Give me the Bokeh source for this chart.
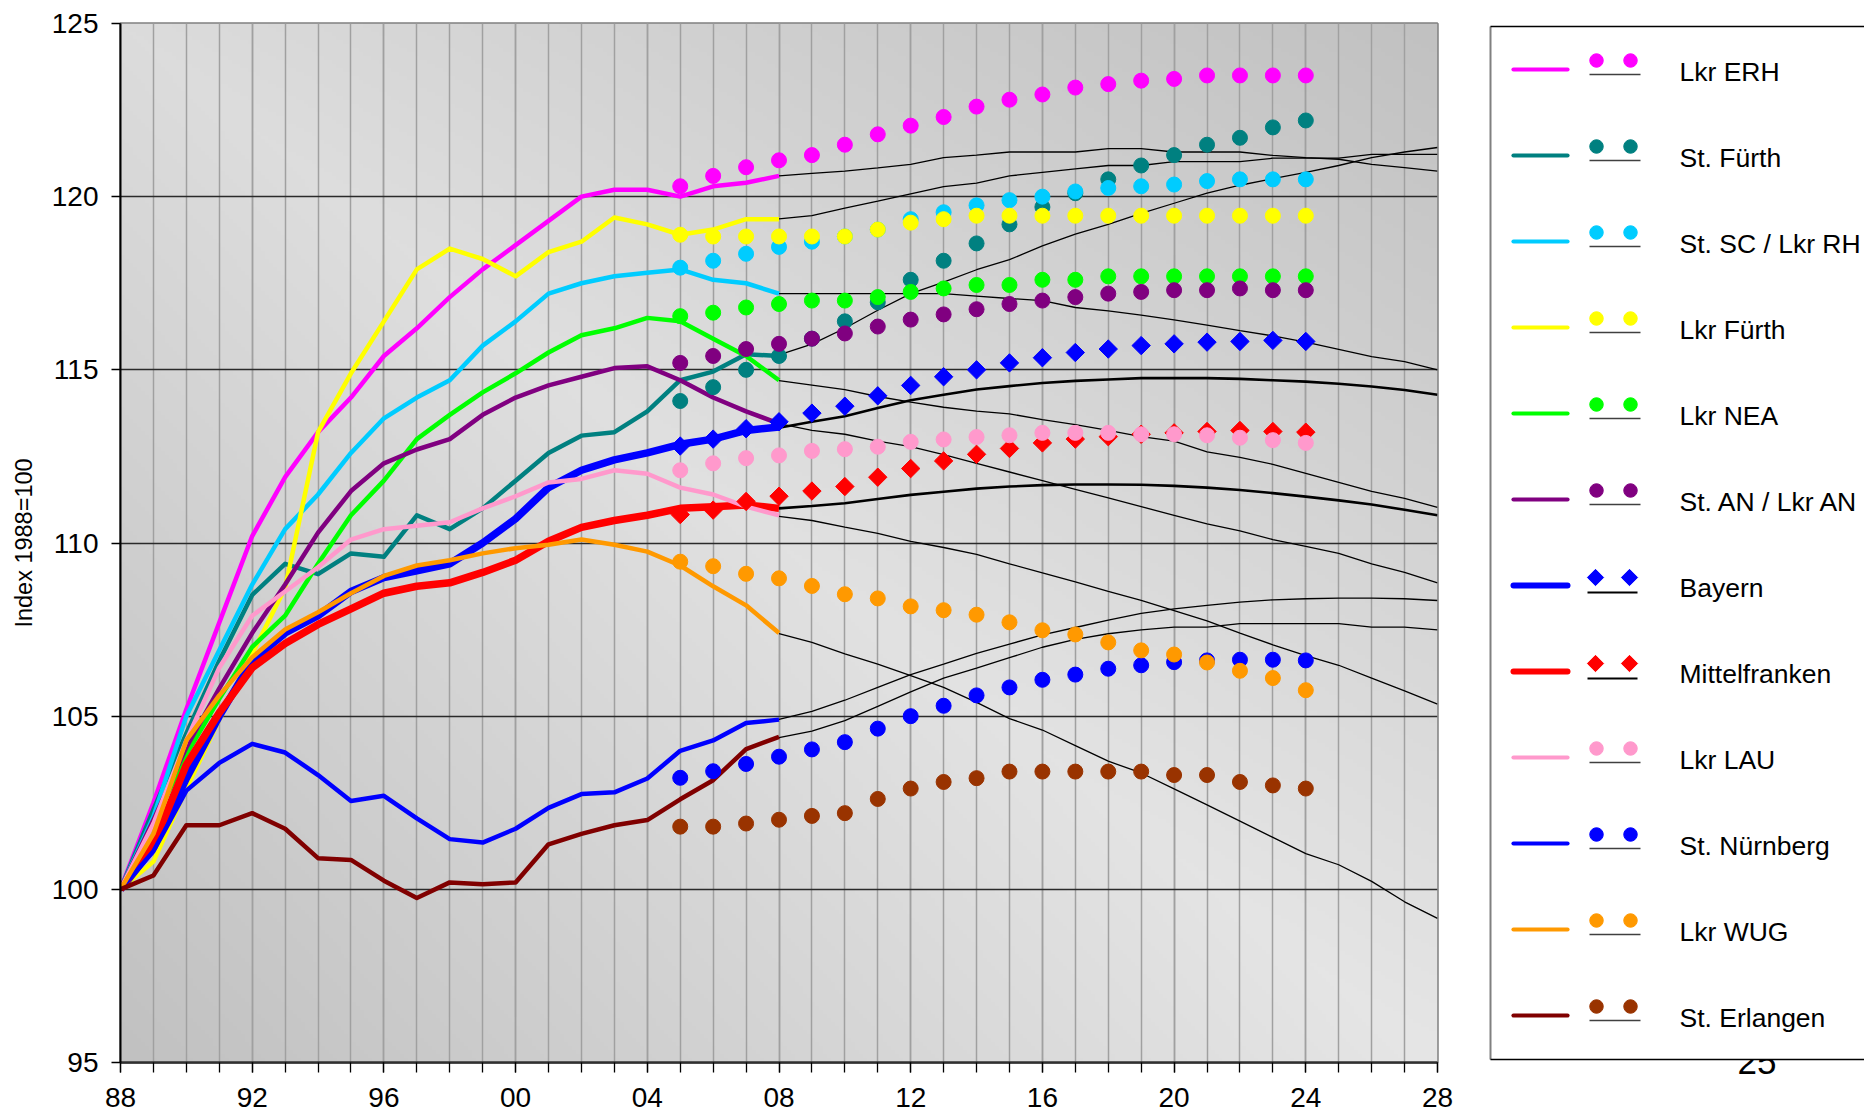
import numpy as np
from bokeh.plotting import figure
from bokeh.models import Range1d, FixedTicker, Label
from bokeh.layouts import row
from bokeh.embed import file_html
from bokeh.resources import INLINE
from bokeh.core.properties import value

FONT = "Liberation Sans"

# ---------------- data ----------------
years_hist = list(range(1988, 2009))   # solid lines
years_proj = list(range(2005, 2025))   # dotted projection
years_alt = list(range(2008, 2029))    # thin black projection

series_names = ["Lkr ERH", "St. Fürth", "St. SC / Lkr RH", "Lkr Fürth", "Lkr NEA",
                "St. AN / Lkr AN", "Bayern", "Mittelfranken", "Lkr LAU",
                "St. Nürnberg", "Lkr WUG", "St. Erlangen"]

hist_erh = [100, 102.5, 105.2, 107.7, 110.2, 111.9, 113.2, 114.2, 115.4, 116.2, 117.1,
            117.9, 118.6, 119.3, 120.0, 120.2, 120.2, 120.0, 120.3, 120.4, 120.6]
hist_fue = [100, 102.3, 104.5, 106.6, 108.5, 109.4, 109.1, 109.7, 109.6, 110.8, 110.4,
            111.0, 111.8, 112.6, 113.1, 113.2, 113.8, 114.7, 114.95, 115.45, 115.4]
hist_sc = [100, 102.1, 105.0, 106.9, 108.8, 110.4, 111.4, 112.6, 113.6, 114.2, 114.7,
           115.7, 116.4, 117.2, 117.5, 117.7, 117.8, 117.9, 117.6, 117.5, 117.2]
hist_lfue = [100, 100.8, 102.9, 104.9, 106.8, 108.7, 113.2, 114.9, 116.4, 117.9, 118.5,
             118.2, 117.7, 118.4, 118.7, 119.4, 119.2, 118.9, 119.05, 119.35, 119.35]
hist_nea = [100, 101.9, 103.9, 105.5, 107.0, 107.9, 109.4, 110.8, 111.8, 113.0, 113.7,
            114.35, 114.9, 115.5, 116.0, 116.2, 116.5, 116.4, 115.9, 115.4, 114.7]
hist_an = [100, 102.0, 104.1, 105.8, 107.4, 108.8, 110.3, 111.5, 112.3, 112.7, 113.0,
           113.7, 114.2, 114.55, 114.8, 115.05, 115.1, 114.7, 114.2, 113.8, 113.45]
hist_by = [100, 101.2, 103.2, 105.0, 106.6, 107.4, 107.9, 108.6, 109.0, 109.2, 109.4,
           110.0, 110.7, 111.6, 112.1, 112.4, 112.6, 112.85, 113.0, 113.25, 113.35]
hist_mfr = [100, 101.3, 103.6, 105.1, 106.4, 107.1, 107.65, 108.1, 108.55, 108.75, 108.85,
            109.15, 109.5, 110.05, 110.45, 110.65, 110.8, 111.0, 111.05, 111.1, 111.0]
hist_lau = [100, 101.9, 104.3, 106.4, 107.9, 108.6, 109.3, 110.1, 110.4, 110.5, 110.6,
            111.0, 111.35, 111.75, 111.85, 112.1, 112.0, 111.6, 111.4, 111.05, 110.8]
hist_nbg = [100, 101.1, 102.85, 103.65, 104.2, 103.95, 103.3, 102.55, 102.7, 102.05, 101.45,
            101.35, 101.75, 102.35, 102.75, 102.8, 103.2, 104.0, 104.3, 104.8, 104.9]
hist_wug = [100, 101.6, 104.3, 105.6, 106.7, 107.5, 108.0, 108.55, 109.05, 109.35, 109.5,
            109.7, 109.85, 109.95, 110.1, 109.95, 109.75, 109.35, 108.75, 108.2, 107.4]
hist_er = [100, 100.4, 101.85, 101.85, 102.2, 101.75, 100.9, 100.85, 100.25, 99.75, 100.2,
           100.15, 100.2, 101.3, 101.6, 101.85, 102.0, 102.6, 103.15, 104.05, 104.4]

proj_erh = [120.3, 120.6, 120.85, 121.05, 121.2, 121.5, 121.8, 122.05, 122.3, 122.6,
            122.8, 122.95, 123.15, 123.25, 123.35, 123.4, 123.5, 123.5, 123.5, 123.5]
proj_fue = [114.1, 114.5, 115.0, 115.4, 115.9, 116.4, 116.95, 117.6, 118.15, 118.65,
            119.2, 119.7, 120.1, 120.5, 120.9, 121.2, 121.5, 121.7, 122.0, 122.2]
proj_sc = [117.95, 118.15, 118.35, 118.55, 118.7, 118.85, 119.05, 119.35, 119.55, 119.75,
           119.9, 120.0, 120.15, 120.25, 120.3, 120.35, 120.45, 120.5, 120.5, 120.5]
proj_lfue = [118.9, 118.85, 118.85, 118.85, 118.85, 118.85, 119.05, 119.25, 119.35, 119.45,
             119.45, 119.45, 119.45, 119.45, 119.45, 119.45, 119.45, 119.45, 119.45, 119.45]
proj_nea = [116.55, 116.65, 116.8, 116.9, 117.0, 117.0, 117.1, 117.25, 117.35, 117.45,
            117.45, 117.6, 117.6, 117.7, 117.7, 117.7, 117.7, 117.7, 117.7, 117.7]
proj_an = [115.2, 115.4, 115.6, 115.75, 115.9, 116.05, 116.25, 116.45, 116.6, 116.75,
           116.9, 117.0, 117.1, 117.2, 117.25, 117.3, 117.3, 117.35, 117.3, 117.3]
proj_by = [112.8, 113.0, 113.3, 113.5, 113.75, 113.95, 114.25, 114.55, 114.8, 115.0,
           115.2, 115.35, 115.5, 115.6, 115.7, 115.75, 115.8, 115.82, 115.85, 115.82]
proj_mfr = [110.82, 110.95, 111.2, 111.35, 111.5, 111.63, 111.9, 112.15, 112.37, 112.56,
            112.73, 112.89, 113.0, 113.07, 113.14, 113.18, 113.22, 113.25, 113.22, 113.2]
proj_lau = [112.1, 112.3, 112.45, 112.53, 112.66, 112.71, 112.78, 112.92, 112.99, 113.06,
            113.11, 113.18, 113.18, 113.18, 113.14, 113.14, 113.11, 113.04, 112.97, 112.89]
proj_nbg = [103.22, 103.41, 103.62, 103.83, 104.04, 104.25, 104.64, 105.0, 105.3, 105.6,
            105.83, 106.05, 106.2, 106.37, 106.47, 106.56, 106.61, 106.63, 106.63, 106.61]
proj_wug = [109.46, 109.33, 109.11, 108.98, 108.76, 108.52, 108.4, 108.17, 108.06, 107.93,
            107.71, 107.48, 107.36, 107.13, 106.9, 106.78, 106.55, 106.31, 106.1, 105.75]
proj_er = [101.81, 101.81, 101.9, 102.01, 102.12, 102.2, 102.61, 102.91, 103.1, 103.21,
           103.4, 103.4, 103.4, 103.4, 103.4, 103.3, 103.3, 103.1, 103.0, 102.91]

alt_erh = [120.6, 120.67, 120.74, 120.83, 120.93, 121.13, 121.2, 121.29, 121.29, 121.29, 121.39,
           121.39, 121.29, 121.29, 121.29, 121.19, 121.13, 121.08, 120.93, 120.84, 120.74]
alt_fue = [115.43, 115.74, 116.2, 116.72, 117.2, 117.53, 117.89, 118.18, 118.58, 118.92, 119.2,
           119.52, 119.81, 120.1, 120.33, 120.52, 120.7, 120.9, 121.13, 121.29, 121.42]
alt_sc = [117.2, 117.2, 117.2, 117.2, 117.2, 117.2, 117.13, 117.06, 117.0, 116.8, 116.7,
          116.58, 116.44, 116.29, 116.13, 115.98, 115.8, 115.59, 115.38, 115.24, 115.0]
alt_lfue = [119.36, 119.45, 119.67, 119.87, 120.08, 120.29, 120.39, 120.6, 120.7, 120.8, 120.9,
            120.9, 121.01, 121.01, 121.01, 121.11, 121.11, 121.11, 121.22, 121.22, 121.22]
alt_nea = [114.69, 114.56, 114.43, 114.23, 114.07, 113.92, 113.81, 113.73, 113.56, 113.42, 113.25,
           113.07, 112.94, 112.63, 112.47, 112.27, 112.01, 111.75, 111.49, 111.29, 111.03]
alt_an = [113.45, 113.25, 113.14, 112.94, 112.78, 112.55, 112.3, 112.05, 111.8, 111.55, 111.3,
          111.05, 110.8, 110.55, 110.35, 110.1, 109.9, 109.7, 109.4, 109.15, 108.85]
alt_by = [113.33, 113.5, 113.66, 113.9, 114.12, 114.28, 114.43, 114.53, 114.62, 114.68, 114.72,
          114.76, 114.76, 114.76, 114.74, 114.7, 114.66, 114.6, 114.52, 114.42, 114.28]
alt_mfr = [111.0, 111.07, 111.15, 111.27, 111.39, 111.48, 111.57, 111.63, 111.67, 111.69, 111.69,
           111.68, 111.65, 111.6, 111.53, 111.44, 111.34, 111.23, 111.11, 110.96, 110.8]
alt_lau = [110.77, 110.65, 110.46, 110.28, 110.05, 109.87, 109.67, 109.4, 109.14, 108.88, 108.6,
           108.34, 108.05, 107.75, 107.4, 107.06, 106.75, 106.47, 106.1, 105.73, 105.35]
alt_nbg = [104.91, 105.14, 105.46, 105.83, 106.2, 106.5, 106.81, 107.08, 107.35, 107.56, 107.77,
           107.97, 108.1, 108.2, 108.29, 108.36, 108.39, 108.41, 108.41, 108.39, 108.34]
alt_wug = [107.38, 107.13, 106.8, 106.5, 106.17, 105.83, 105.4, 104.93, 104.6, 104.15, 103.7,
           103.36, 102.9, 102.44, 101.97, 101.5, 101.03, 100.71, 100.23, 99.64, 99.16]
alt_er = [104.38, 104.57, 104.87, 105.28, 105.7, 106.1, 106.39, 106.69, 106.99, 107.22, 107.38,
          107.49, 107.57, 107.57, 107.67, 107.67, 107.67, 107.67, 107.57, 107.57, 107.49]

x_tick_years = list(range(1988, 2029, 4))
x_tick_labels = ["88", "92", "96", "00", "04", "08", "12", "16", "20", "24", "28"]
y_ticks = [95, 100, 105, 110, 115, 120, 125]
y_axis_title = "Index 1988=100"
page_number = "25"

hist_all = [hist_erh, hist_fue, hist_sc, hist_lfue, hist_nea, hist_an, hist_by, hist_mfr,
            hist_lau, hist_nbg, hist_wug, hist_er]
proj_all = [proj_erh, proj_fue, proj_sc, proj_lfue, proj_nea, proj_an, proj_by, proj_mfr,
            proj_lau, proj_nbg, proj_wug, proj_er]
alt_all = [alt_erh, alt_fue, alt_sc, alt_lfue, alt_nea, alt_an, alt_by, alt_mfr,
           alt_lau, alt_nbg, alt_wug, alt_er]

# ---------------- styles ----------------
line_colors = ["#FF00FF", "#008080", "#00CCFF", "#FFFF00", "#00FF00", "#800080",
               "#0000FF", "#FF0000", "#FF99CC", "#0000FF", "#FF9900", "#800000"]
dot_colors = ["#FF00FF", "#008080", "#00CCFF", "#FFFF00", "#00FF00", "#800080",
              "#0000FF", "#FF0000", "#FF99CC", "#0000FF", "#FF9900", "#993300"]
line_widths = [4.5, 4.5, 4.5, 4.5, 4.5, 4.5, 7.5, 7.5, 4.5, 4.5, 4.5, 4.5]
is_diamond = [False] * 6 + [True, True] + [False] * 4
alt_widths = [1.3] * 6 + [2.6, 2.6] + [1.3] * 4

# layout (page pixels; Bokeh page has no body margin)
W, H = 1488, 1119
FR_LEFT, FR_RIGHT, FR_TOP, FR_BOTTOM = 120, 1437, 23, 1062
TEXT_DY = 10   # empirical correction of text baseline placement

p = figure(width=W, height=H, output_backend="svg", toolbar_location=None,
           x_range=Range1d(1988, 2028), y_range=Range1d(95, 125),
           min_border_left=FR_LEFT, min_border_right=W - FR_RIGHT,
           min_border_top=FR_TOP, min_border_bottom=H - FR_BOTTOM)
p.background_fill_color = "#e0e0e0"
p.border_fill_color = "white"
p.outline_line_color = "#808080"
p.outline_line_width = 2.5

# gradient background
gh, gw = 260, 330
yy, xx = np.mgrid[0:gh, 0:gw]
xn = xx / (gw - 1.0)
yn = yy / (gh - 1.0)
u = xn + yn
c = 0xE6 - 32 * np.abs(u - 1.0) - 10 * (yn - xn + 1.0) / 2.0
c = np.clip(c, 0, 255).astype(np.uint32)
img = ((255 << 24) | (c << 16) | (c << 8) | c).astype(np.uint32)
p.image_rgba(image=[img], x=1988, y=95, dw=40, dh=30, level="image")

# axes
p.xaxis.ticker = FixedTicker(ticks=x_tick_years, minor_ticks=list(range(1988, 2029)))
p.xaxis.major_label_overrides = {yv: lab for yv, lab in zip(x_tick_years, x_tick_labels)}
p.yaxis.ticker = FixedTicker(ticks=y_ticks, minor_ticks=[])
for ax in (p.xaxis[0], p.yaxis[0]):
    ax.major_label_text_font = FONT
    ax.major_label_text_font_size = "28px"
    ax.major_label_text_color = "black"
    ax.major_tick_in = 0
    ax.minor_tick_in = 0
    ax.major_tick_line_color = "black"
    ax.minor_tick_line_color = "black"
    ax.major_tick_line_width = 1.3
    ax.minor_tick_line_width = 1.3
p.xaxis.major_tick_out = 10
p.xaxis.minor_tick_out = 10
p.xaxis.axis_line_color = "#303030"
p.xaxis.axis_line_width = 2.5
p.xaxis.major_label_standoff = 15
p.yaxis.major_tick_out = 9
p.yaxis.minor_tick_out = 0
p.yaxis.axis_line_color = "black"
p.yaxis.axis_line_width = 2
p.yaxis.major_label_standoff = 13
p.yaxis.axis_label = y_axis_title
p.yaxis.axis_label_text_font = FONT
p.yaxis.axis_label_text_font_size = "23.5px"
p.yaxis.axis_label_text_font_style = "normal"
p.yaxis.axis_label_text_color = "black"
p.yaxis.axis_label_standoff = 12

p.xgrid.grid_line_color = "#a0a0a0"
p.xgrid.grid_line_width = 1.5
p.xgrid.minor_grid_line_color = "#a0a0a0"
p.xgrid.minor_grid_line_width = 1.5
p.ygrid.ticker = FixedTicker(ticks=y_ticks[1:-1])
p.ygrid.grid_line_color = "#2a2a2a"
p.ygrid.grid_line_width = 1.3

# thin black alternative projections
for i in range(12):
    p.line(years_alt, alt_all[i], line_color="black", line_width=alt_widths[i])
# historical solid lines
for i in range(12):
    p.line(years_hist, hist_all[i], line_color=line_colors[i], line_width=line_widths[i],
           line_join="round")
# dotted projections
for i in range(12):
    if is_diamond[i]:
        p.scatter(years_proj, proj_all[i], marker="square", angle=np.pi / 4, size=13,
                  fill_color=dot_colors[i], line_color=dot_colors[i])
    else:
        p.scatter(years_proj, proj_all[i], marker="circle", size=15,
                  fill_color=dot_colors[i], line_color=dot_colors[i])

# ---------------- legend panel (coordinates: x = page x, y = -page y) ----------------
LW = 1864 - W
p2 = figure(width=LW, height=H, output_backend="svg", toolbar_location=None,
            x_range=Range1d(W, W + LW), y_range=Range1d(-FR_BOTTOM, -FR_TOP),
            min_border_left=0, min_border_right=0,
            min_border_top=FR_TOP, min_border_bottom=H - FR_BOTTOM,
            x_axis_location=None, y_axis_location=None)
aligned = True
try:
    p2.frame_align = False
    aligned = False
except Exception:
    aligned = True
if not aligned:
    p2.min_border_top = 0
    p2.min_border_bottom = 0
    p2.y_range = Range1d(-H, 0)

p2.outline_line_color = None
p2.background_fill_color = "white"
p2.border_fill_color = "white"
p2.xgrid.visible = False
p2.ygrid.visible = False

# page number partly hidden behind the legend box
if aligned:
    p2.add_layout(Label(x=1737, y=-(1071 - TEXT_DY), text=page_number, text_font=FONT,
                        text_font_size="35px", text_baseline="alphabetic", text_align="left",
                        text_color="black", level="underlay"))
else:
    p2.text(x=[1737], y=[-(1071 - TEXT_DY)], text=[page_number], text_font=value(FONT),
            text_font_size="35px", text_baseline="alphabetic", text_align="left",
            text_color="black")
# legend box
p2.quad(left=[1490], right=[W + LW + 10], top=[-26], bottom=[-1059],
        fill_color="white", line_color=None)
p2.segment(x0=[1490], y0=[-26], x1=[1490], y1=[-1059], line_color="#808080", line_width=2)
p2.segment(x0=[1490, 1490], y0=[-26, -1059], x1=[W + LW + 5] * 2, y1=[-26, -1059],
           line_color="black", line_width=1.4)

for i, name in enumerate(series_names):
    ly = 69 + 86 * i
    p2.segment(x0=[1513], y0=[-ly], x1=[1567], y1=[-ly],
               line_color=line_colors[i], line_width=6 if is_diamond[i] else 4.2,
               line_cap="round")
    if is_diamond[i]:
        p2.scatter([1595, 1629], [-(ly - 8)] * 2, marker="square", angle=np.pi / 4,
                   size=11.5, fill_color=dot_colors[i], line_color=dot_colors[i])
        p2.segment(x0=[1587], y0=[-(ly + 7)], x1=[1637], y1=[-(ly + 7)],
                   line_color="black", line_width=2)
    else:
        p2.scatter([1596, 1630], [-(ly - 9)] * 2, marker="circle", size=13.5,
                   fill_color=dot_colors[i], line_color=dot_colors[i])
        p2.segment(x0=[1589], y0=[-(ly + 5)], x1=[1640], y1=[-(ly + 5)],
                   line_color="#404040", line_width=1.4)
    p2.text(x=[1679], y=[-(ly + 12 - TEXT_DY)], text=[name], text_font=value(FONT),
            text_font_size="26.5px", text_baseline="alphabetic", text_align="left",
            text_color="black")

layout = row(p, p2)
open("out.html", "w").write(file_html(layout, INLINE))
